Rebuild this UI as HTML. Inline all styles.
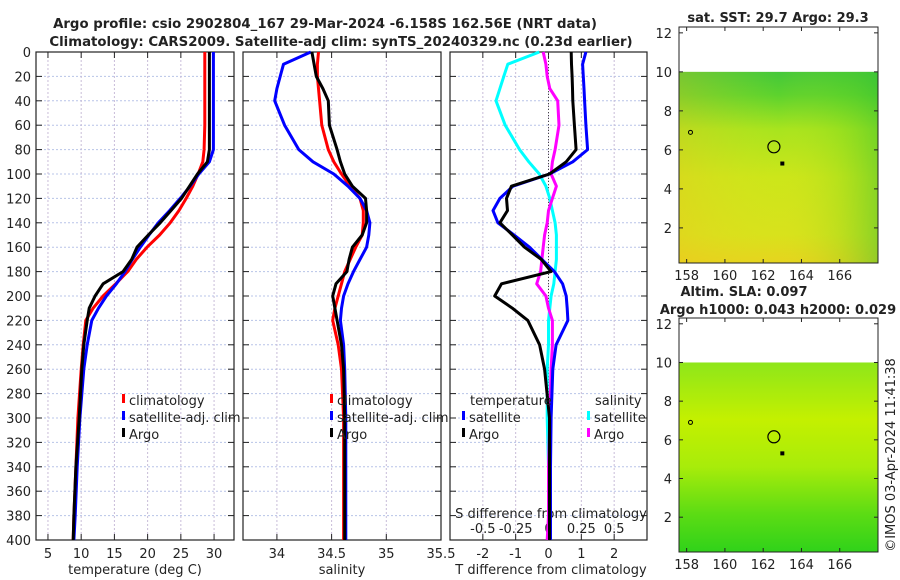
<!DOCTYPE html>
<html><head><meta charset="utf-8"><style>
body{margin:0;background:#fff;width:900px;height:580px;overflow:hidden}
svg{display:block;font-family:"DejaVu Sans","Liberation Sans",sans-serif}
</style></head><body>
<svg id="c" width="900" height="580">
<defs>
<linearGradient id="g1v" x1="0" y1="0" x2="0" y2="1">
<stop offset="0" stop-color="#44c83a"/><stop offset="0.12" stop-color="#5cd22e"/><stop offset="0.3" stop-color="#a8e41e"/><stop offset="0.55" stop-color="#cce61a"/><stop offset="0.85" stop-color="#d8e21c"/><stop offset="1" stop-color="#e6d41e"/></linearGradient>
<linearGradient id="g1h" x1="0" y1="0" x2="1" y2="0">
<stop offset="0" stop-color="#f0c020" stop-opacity="0.3"/><stop offset="0.5" stop-color="#e0e020" stop-opacity="0"/><stop offset="0.8" stop-color="#60d020" stop-opacity="0.2"/><stop offset="1" stop-color="#30c030" stop-opacity="0.45"/></linearGradient>
<linearGradient id="g2v" x1="0" y1="0" x2="0" y2="1">
<stop offset="0" stop-color="#8ee61a"/><stop offset="0.3" stop-color="#c4f000"/><stop offset="0.55" stop-color="#a8ec0a"/><stop offset="0.8" stop-color="#5cdc14"/><stop offset="1" stop-color="#30d21a"/></linearGradient>
</defs>
</svg>
<script>
const depths=[0,10,20,30,40,60,80,90,100,110,120,130,140,150,160,170,180,190,200,210,220,240,260,300,340,380,400];
const tempClim=[28.6,28.6,28.6,28.6,28.6,28.6,28.5,28.3,27.6,26.8,25.8,24.7,23.4,21.8,19.9,18.3,17.0,15.2,13.3,11.8,10.7,10.3,10.0,9.5,9.2,8.9,8.8];
const tempSat=[29.9,29.9,29.9,29.9,29.9,29.9,29.9,29.3,27.7,26.4,24.9,23.3,21.6,20.2,18.9,17.7,16.6,15.3,13.8,12.6,11.6,10.9,10.4,9.8,9.4,9.1,8.9];
const tempArgo=[29.3,29.3,29.3,29.3,29.3,29.3,29.3,29.0,27.5,26.3,25.1,23.5,21.9,20.1,18.4,17.6,16.3,13.3,12.1,11.2,10.9,10.4,10.1,9.7,9.2,8.9,8.8];
const salClim=[34.38,34.37,34.37,34.38,34.39,34.41,34.47,34.52,34.59,34.67,34.76,34.79,34.79,34.78,34.72,34.67,34.62,34.59,34.56,34.53,34.51,34.56,34.59,34.61,34.61,34.61,34.61];
const salSat=[34.31,34.06,34.03,34.0,33.98,34.07,34.2,34.33,34.52,34.65,34.76,34.82,34.85,34.84,34.82,34.76,34.70,34.65,34.61,34.59,34.58,34.61,34.62,34.63,34.63,34.63,34.63];
const salArgo=[34.32,34.34,34.36,34.42,34.47,34.48,34.55,34.58,34.62,34.69,34.81,34.82,34.82,34.78,34.69,34.66,34.64,34.54,34.51,34.53,34.55,34.59,34.61,34.62,34.62,34.62,34.62];
const dTsat=[1.14,1.04,1.06,1.08,1.1,1.14,1.19,0.74,0.03,-1.08,-1.48,-1.69,-1.54,-1.05,-0.58,-0.2,0.18,0.43,0.54,0.57,0.59,0.23,0.13,0.08,0.06,0.06,0.06];
const dTargo=[0.69,0.7,0.72,0.73,0.74,0.79,0.84,0.54,0.03,-1.13,-1.28,-1.25,-1.48,-1.1,-0.73,-0.22,0.08,-1.43,-1.64,-1.1,-0.63,-0.27,-0.12,0.03,0.03,0.03,0.03];
const dSsat=[-0.07,-0.31,-0.34,-0.37,-0.40,-0.33,-0.22,-0.15,-0.07,-0.02,0.01,0.03,0.05,0.06,0.06,0.06,0.05,0.04,0.02,0.01,0.0,0.0,-0.01,-0.01,0.0,0.0,0.0];
const dSargo=[-0.04,-0.02,-0.01,0.01,0.07,0.08,0.05,0.03,0.02,0.06,0.03,0.0,-0.01,-0.03,-0.04,-0.05,-0.06,-0.09,-0.02,0.0,0.03,0.03,0.02,0.01,0.0,0.0,-0.01];
const tTicks=[5,10,15,20,25,30];
const sTicks=[34,34.5,35,35.5];
const dTicks=[-2,-1,0,1,2];
const dsTicks=[-0.5,-0.25,0,0.25,0.5];
const depthTicks=[0,20,40,60,80,100,120,140,160,180,200,220,240,260,280,300,320,340,360,380,400];
const latTicks=[2,4,6,8,10,12];
const lonTicks=[158,160,162,164,166];

const svg=document.getElementById('c');
const NS='http://www.w3.org/2000/svg';
function mk(tag,at,parent){const e=document.createElementNS(NS,tag);for(const k in at)e.setAttribute(k,at[k]);(parent||svg).appendChild(e);return e;}
function txt(s,x,y,at,parent){const e=mk('text',Object.assign({x:x,y:y,'font-size':13,fill:'#222'},at||{}),parent);e.textContent=s;return e;}
const Y=d=>52+d*(488/400);
const panels=[
 {x0:36,x1:234,d0:3.2,d1:33,name:'temperature-panel'},
 {x0:243,x1:441,d0:33.69,d1:35.5,name:'salinity-panel'},
 {x0:450,x1:647,d0:-3,d1:3,name:'difference-panel'}];
function X(p,v){return p.x0+(v-p.d0)/(p.d1-p.d0)*(p.x1-p.x0);}
function frame(p,ticks,showY){
 const g=mk('g',{});
 
 
 for(const d of depthTicks){const y=Y(d);
  mk('line',{x1:p.x0,x2:p.x1,y1:y,y2:y,stroke:'#b8c4e8','stroke-width':1,'stroke-dasharray':'2,2'},g);
  mk('line',{x1:p.x0,x2:p.x0+6,y1:y,y2:y,stroke:'#222'},g);
  mk('line',{x1:p.x1-6,x2:p.x1,y1:y,y2:y,stroke:'#222'},g);
  if(showY){const t=txt(String(d),31,y+5,{'text-anchor':'end'},g);}
 }
 for(const v of ticks){const x=X(p,v);
  mk('line',{x1:x,x2:x,y1:52,y2:540,stroke:'#c8bcd8','stroke-width':1,'stroke-dasharray':'2,2'},g);
  mk('line',{x1:x,x2:x,y1:540,y2:534,stroke:'#222'},g);
  mk('line',{x1:x,x2:x,y1:52,y2:58,stroke:'#222'},g);
 }
 mk('rect',{x:p.x0,y:52,width:p.x1-p.x0,height:488,fill:'none',stroke:'#222','stroke-width':1.2},g);
 return g;
}
function line(p,vals,color,name,scale){
 const pts=vals.map((v,i)=>X(p,v*(scale||1)).toFixed(1)+','+Y(depths[i]).toFixed(1)).join(' ');
 const e=mk('polyline',{points:pts,fill:'none',stroke:color,'stroke-width':3,'stroke-linejoin':'round'});
 
 
}
const g1=frame(panels[0],tTicks,true);
tTicks.forEach(v=>txt(String(v),X(panels[0],v),558,{'text-anchor':'middle'}));
txt('temperature (deg C)',135,574,{'text-anchor':'middle'});
line(panels[0],tempClim,'#f00','temp-climatology-line');
line(panels[0],tempSat,'#00f','temp-satellite-line');
line(panels[0],tempArgo,'#000','temp-argo-line');
const g2=frame(panels[1],sTicks,false);
sTicks.forEach(v=>txt(String(v),X(panels[1],v),558,{'text-anchor':'middle'}));
txt('salinity',342,574,{'text-anchor':'middle'});
line(panels[1],salClim,'#f00','sal-climatology-line');
line(panels[1],salSat,'#00f','sal-satellite-line');
line(panels[1],salArgo,'#000','sal-argo-line');
const g3=frame(panels[2],dTicks,false);
mk('line',{x1:X(panels[2],0),x2:X(panels[2],0),y1:52,y2:540,stroke:'#444','stroke-dasharray':'1,2'});
dTicks.forEach(v=>txt(String(v),X(panels[2],v),558,{'text-anchor':'middle'}));
dsTicks.forEach(v=>txt(String(v),X(panels[2],v*4),533,{'text-anchor':'middle'}));
txt('S difference from climatology',551,518,{'text-anchor':'middle'});
txt('T difference from climatology',551,574,{'text-anchor':'middle'});
line(panels[2],dSsat,'#0ff','s-diff-satellite-line',4);
line(panels[2],dSargo,'#f0f','s-diff-argo-line',4);
line(panels[2],dTsat,'#00f','t-diff-satellite-line');
line(panels[2],dTargo,'#000','t-diff-argo-line');
function leg(x,y,color,label,name){
 const g=mk('g',{});
 
 
 mk('rect',{x:x,y:y-11,width:3,height:9,fill:color},g);
 txt(label,x+7,y,{},g);
}
leg(122,405,'#f00','climatology','legend-climatology');
leg(122,422,'#00f','satellite-adj. clim','legend-satellite-adj');
leg(122,439,'#000','Argo','legend-argo');
leg(330,405,'#f00','climatology','legend-climatology-2');
leg(330,422,'#00f','satellite-adj. clim','legend-satellite-adj-2');
leg(330,439,'#000','Argo','legend-argo-2');
txt('temperature',470,405);
leg(462,422,'#00f','satellite','legend-t-satellite');
leg(462,439,'#000','Argo','legend-t-argo');
txt('salinity',595,405);
leg(587,422,'#0ff','satellite','legend-s-satellite');
leg(587,439,'#f0f','Argo','legend-s-argo');
const t1=txt('Argo profile: csio 2902804_167 29-Mar-2024 -6.158S 162.56E (NRT data)',325,28,{'text-anchor':'middle','font-weight':'bold','font-size':13.3});


const t2=txt('Climatology: CARS2009. Satellite-adj clim: synTS_20240329.nc (0.23d earlier)',341,46,{'text-anchor':'middle','font-weight':'bold','font-size':13.3});



function map(top,bot,grad,name,extra){
 const x0=679,x1=878;
 const lat=v=>bot-(v-0.2)/(12.3-0.2)*(bot-top);
 const lon=v=>x0+(v-157.6)/(168-157.6)*(x1-x0);
 const g=mk('g',{});
 
 
 mk('rect',{x:x0,y:lat(10),width:x1-x0,height:bot-lat(10),fill:'url(#'+grad+')'},g);
 if(extra)mk('rect',{x:x0,y:lat(10),width:x1-x0,height:bot-lat(10),fill:'url(#'+extra+')'},g);
 mk('rect',{x:x0,y:top,width:x1-x0,height:bot-top,fill:'none',stroke:'#222'},g);
 latTicks.forEach(v=>{const y=lat(v);mk('line',{x1:x0,x2:x0+4,y1:y,y2:y,stroke:'#222'},g);mk('line',{x1:x1-4,x2:x1,y1:y,y2:y,stroke:'#222'},g);txt(String(v),672,y+5,{'text-anchor':'end'},g);});
 lonTicks.forEach(v=>{const x=lon(v);mk('line',{x1:x,x2:x,y1:bot,y2:bot-4,stroke:'#222'},g);mk('line',{x1:x,x2:x,y1:top,y2:top+4,stroke:'#222'},g);txt(String(v),x,bot+17,{'text-anchor':'middle'},g);});
 const pt=mk('circle',{cx:lon(162.56),cy:lat(6.158),r:6,fill:'none',stroke:'#000','stroke-width':1.2},g);
 
 
 mk('rect',{x:lon(163)-2,y:lat(5.3)-2,width:4,height:4,fill:'#000'},g);
 mk('circle',{cx:lon(158.2),cy:lat(6.9),r:2,fill:'none',stroke:'#000'},g);
}
map(27,263,'g1v','sst-map','g1h');
map(318,552,'g2v','sla-map');
txt('sat. SST: 29.7 Argo: 29.3',778,22,{'text-anchor':'middle','font-weight':'bold'});
txt('Altim. SLA: 0.097',744,296,{'text-anchor':'middle','font-weight':'bold'});
txt('Argo h1000: 0.043 h2000: 0.029',778,314,{'text-anchor':'middle','font-weight':'bold'});
txt('©IMOS 03-Apr-2024 11:41:38',0,0,{'text-anchor':'middle',transform:'translate(895,455) rotate(-90)'});
</script>
</body></html>
